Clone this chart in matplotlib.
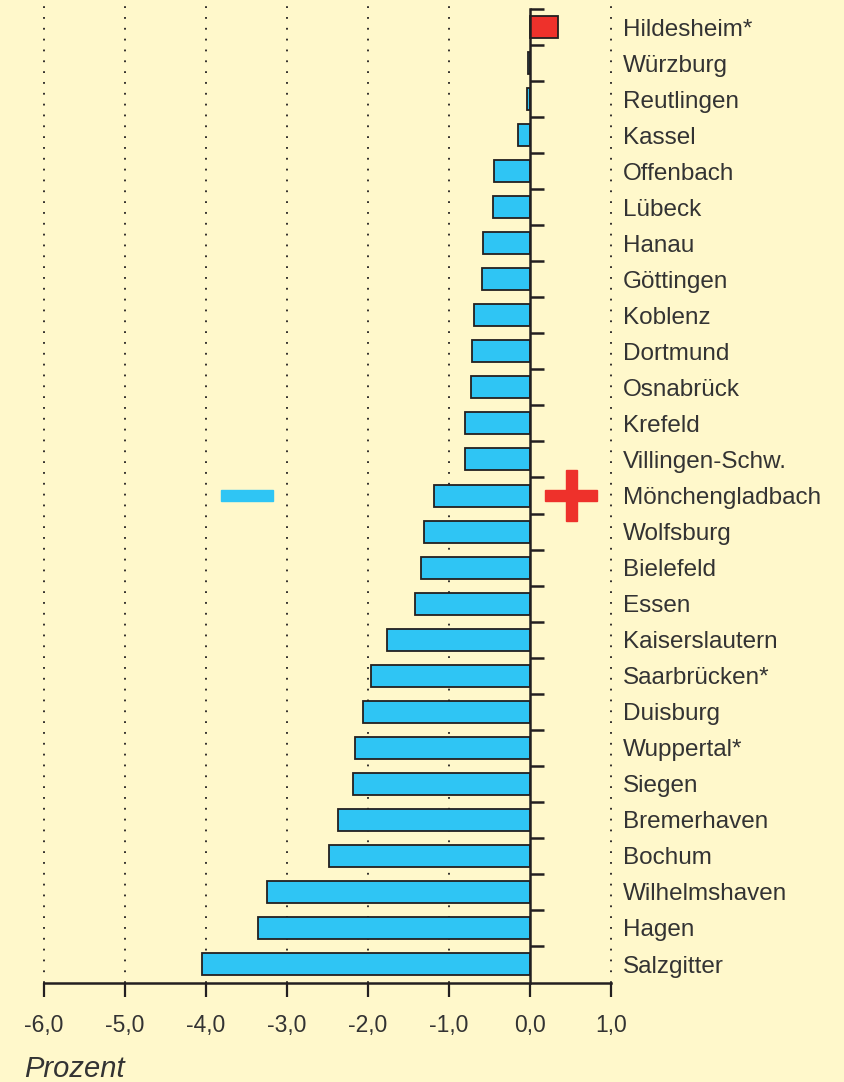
import matplotlib
matplotlib.use("Agg")
import matplotlib.pyplot as plt
from matplotlib.patches import Rectangle
from matplotlib.ticker import FixedLocator

# Daten (Veränderung in Prozent)
staedte = ["Hildesheim*", "Würzburg", "Reutlingen", "Kassel", "Offenbach", "Lübeck",
           "Hanau", "Göttingen", "Koblenz", "Dortmund", "Osnabrück", "Krefeld",
           "Villingen-Schw.", "Mönchengladbach", "Wolfsburg", "Bielefeld", "Essen",
           "Kaiserslautern", "Saarbrücken*", "Duisburg", "Wuppertal*", "Siegen",
           "Bremerhaven", "Bochum", "Wilhelmshaven", "Hagen", "Salzgitter"]
werte = [0.35, -0.02, -0.04, -0.15, -0.44, -0.46, -0.58, -0.59, -0.69, -0.72, -0.73,
         -0.80, -0.80, -1.19, -1.31, -1.35, -1.42, -1.77, -1.96, -2.06, -2.16, -2.19,
         -2.37, -2.48, -3.25, -3.36, -4.05]
x_ticks = [-6, -5, -4, -3, -2, -1, 0, 1]
x_labels = ["-6,0", "-5,0", "-4,0", "-3,0", "-2,0", "-1,0", "0,0", "1,0"]

BG = "#FFF8CB"
CYAN = "#2FC5F4"
RED = "#EE312B"
INK = "#231F20"
TXT = "#333333"

plt.rcParams["font.family"] = ["Liberation Sans", "DejaVu Sans"]

fig = plt.figure(figsize=(8.44, 10.82), dpi=100, facecolor=BG)
ax = fig.add_axes([44 / 844, 1 - 983 / 1082, 567 / 844, 983 / 1082])
ax.set_facecolor(BG)

pos = list(range(len(staedte)))
farben = [RED if w > 0 else CYAN for w in werte]
ax.barh(pos, werte, height=0.61, color=farben, edgecolor=INK, linewidth=1.3, zorder=3)

ax.set_xlim(-6, 1)
ax.set_ylim(len(staedte) - 0.473, -0.75)

# gepunktete Gitterlinien
for x in x_ticks:
    if x != 0:
        ax.axvline(x, color=INK, linewidth=1.3, linestyle=(0, (1, 5)), zorder=1, clip_on=False)

# Achsen
for s in ["top", "right"]:
    ax.spines[s].set_visible(False)
ax.spines["left"].set_position(("data", 0))
ax.spines["left"].set_bounds(-0.5, len(staedte) - 0.473)
ax.spines["left"].set_linewidth(1.8)
ax.spines["left"].set_color(INK)
ax.spines["left"].set_zorder(4)
ax.spines["bottom"].set_linewidth(1.8)
ax.spines["bottom"].set_color(INK)

ax.set_xticks(x_ticks)
ax.set_xticklabels(x_labels)
ax.tick_params(axis="x", direction="out", length=10, width=1.6, color=INK,
               labelsize=16.5, labelcolor=TXT, pad=12)

ax.set_yticks(pos)
ax.set_yticklabels(staedte)
ax.yaxis.set_minor_locator(FixedLocator([p - 0.5 for p in pos]))
ax.tick_params(axis="y", which="major", left=False, right=False,
               labelleft=False, labelright=True, labelsize=17.5, labelcolor=TXT, pad=5.2)
ax.tick_params(axis="y", which="minor", left=True, right=False, direction="in",
               length=10, width=1.8, color=INK)

# Minus- und Pluszeichen
ax.add_patch(Rectangle((-3.815, 13 - 0.14), 0.645, 0.28, color=CYAN, zorder=2))
ax.add_patch(Rectangle((0.185, 13 - 0.14), 0.64, 0.28, color=RED, zorder=2))
ax.add_patch(Rectangle((0.44, 13 - 0.72), 0.135, 1.44, color=RED, zorder=2))

fig.text(24 / 844, 1 - 1077 / 1082, "Prozent", fontsize=21, style="italic",
         color=TXT, ha="left", va="baseline")

fig.savefig("out.png", dpi=100, facecolor=BG)
